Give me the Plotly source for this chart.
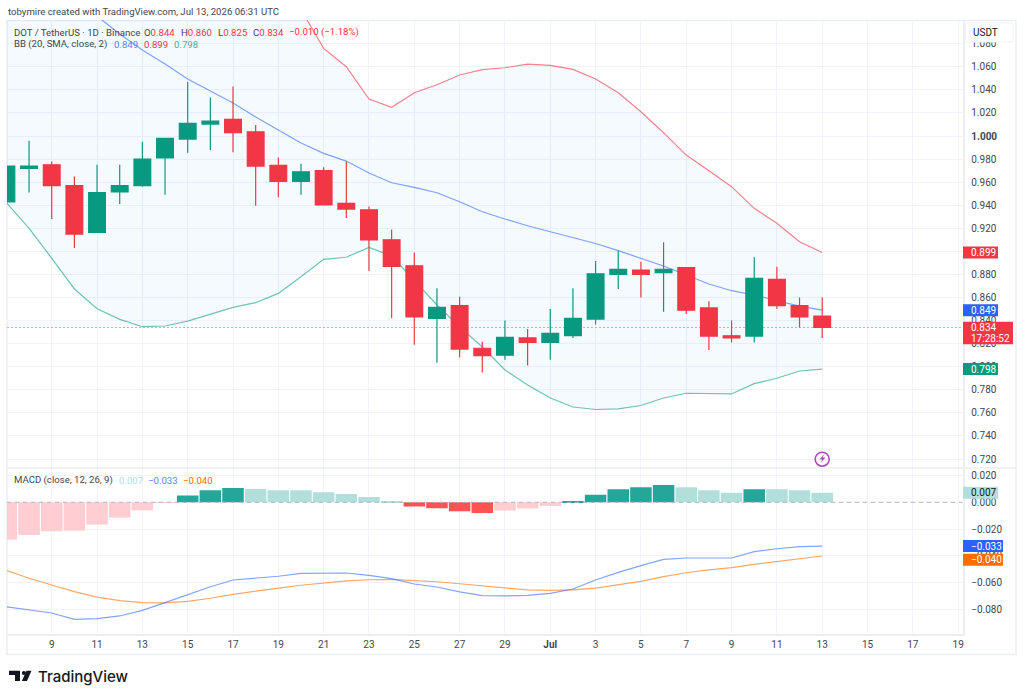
import pandas as pd
import plotly.graph_objects as go
from plotly.subplots import make_subplots

WIDTH, HEIGHT = 1024, 699
FONT = "Roboto, Inter, sans-serif"
LOGO_FONT = "Inter, Roboto, sans-serif"
INK = "#434651"
GREEN = "#089981"
RED = "#F23645"
BLUE = "#2962FF"
ORANGE = "#FF6D00"
GRID = "#f0f3fa"
EDGE = "#eceef2"
LABEL_SIZE = 9.6
TICK_SIZE = 10

dates = pd.date_range("2026-06-07", "2026-07-13", freq="D")

opens = [.9428, .972, .975, .957, .9165, .9515, .957, .981, .9974, 1.0104, 1.0145, 1.0037, .9746,
         .9607, .970, .9417, .936, .910, .8875, .842, .853, .816, .810, .825, .821, .827, .8413,
         .880, .8838, .8815, .886, .851, .8268, .8266, .8757, .853, .844]
highs = [.975, .996, .978, .965, .975, .975, .995, .998, 1.047, 1.0335, 1.043, 1.0095, .9815,
         .976, .973, .978, .939, .919, .899, .868, .8607, .8217, .840, .8327, .850, .868, .8916,
         .9006, .891, .908, .886, .8567, .840, .895, .8867, .860, .860]
lows = [.9425, .951, .928, .903, .916, .941, .956, .949, .9855, .988, .986, .9396, .947,
        .949, .940, .929, .883, .842, .819, .8035, .808, .795, .806, .801, .806, .825, .8367,
        .8674, .860, .8477, .8457, .8145, .821, .821, .850, .834, .825]
closes = [.974, .974, .957, .915, .951, .957, .980, .998, 1.011, 1.013, 1.003, .974, .9607,
          .969, .9404, .9367, .910, .887, .8433, .8515, .8153, .8095, .8255, .821, .829, .842, .8806,
          .8844, .880, .8844, .849, .8266, .825, .8766, .853, .8433, .834]

bb_upper = [1.22, 1.21, 1.20, 1.19, 1.18, 1.17, 1.16, 1.15, 1.14, 1.135, 1.13, 1.125, 1.12,
            1.1097, 1.076, 1.0601, 1.0321, 1.0249, 1.0375, 1.0445, 1.0529, 1.0575, 1.0592, 1.0624, 1.0613, 1.0578, 1.0494,
            1.0375, 1.0211, 1.0029, .9835, .9699, .9561, .9373, .9243, .9084, .899]
bb_basis = [1.1569, 1.1439, 1.1318, 1.1179, 1.104, 1.0884, 1.0745, 1.0624, 1.0494, 1.039, 1.0286, 1.0165, 1.0052,
            .9939, .985, .9783, .9679, .9595, .9555, .9508, .943, .9344, .9281, .9222, .917, .9116, .9068,
            .9006, .8942, .8873, .8795, .8717, .8659, .8622, .8572, .8526, .849]
bb_lower = [.9422, .92, .894, .8674, .8503, .8411, .8347, .8353, .8396, .8454, .8515, .8555, .8636,
            .878, .8931, .8949, .9035, .896, .8752, .8535, .8344, .8171, .7972, .7842, .7729, .7651, .7629,
            .7634, .7664, .7729, .777, .7764, .7764, .7853, .79, .7963, .798]

macd_hist = [-.0278, -.0243, -.0216, -.0211, -.0166, -.0114, -.006, -.0005, .005, .0089, .0107, .0099, .0089,
             .0089, .0075, .0062, .004, .001, -.0032, -.0045, -.0067, -.008, -.0062, -.0047, -.0027, .001, .0057,
             .0097, .0112, .0129, .0112, .0089, .0072, .0097, .0097, .0089, .0072]
macd_line = [-.0778, -.0803, -.0825, -.0872, -.0867, -.0847, -.0805, -.0748, -.0686, -.0629, -.0579, -.0564, -.0551,
             -.0529, -.0529, -.0527, -.0544, -.0569, -.0609, -.0631, -.0668, -.0696, -.0698, -.0693, -.0678, -.0646, -.0579,
             -.0522, -.0472, -.0425, -.0415, -.0417, -.0415, -.0368, -.0346, -.0331, -.0326]
macd_signal = [-.0507, -.0566, -.0616, -.0666, -.0706, -.0733, -.0748, -.075, -.0738, -.0715, -.0686, -.0661, -.0639,
               -.0618, -.0601, -.0586, -.0577, -.0574, -.0584, -.0592, -.0607, -.0624, -.0639, -.0653, -.0656, -.0653, -.0639,
               -.0616, -.0589, -.0554, -.0525, -.0504, -.0487, -.0462, -.044, -.042, -.040]

price_ticks = [.72, .74, .76, .78, .80, .82, .84, .86, .88, .90, .92, .94, .96, .98, 1.00, 1.02, 1.04, 1.06, 1.08]
macd_ticks = [.02, 0, -.02, -.04, -.06, -.08]
macd_tick_labels = ["0.020", "0.000", "−0.020", "−0.040", "−0.060", "−0.080"]
date_ticks = ["2026-06-09", "2026-06-11", "2026-06-13", "2026-06-15", "2026-06-17", "2026-06-19", "2026-06-21",
              "2026-06-23", "2026-06-25", "2026-06-27", "2026-06-29", "2026-07-01", "2026-07-03", "2026-07-05",
              "2026-07-07", "2026-07-09", "2026-07-11", "2026-07-13", "2026-07-15", "2026-07-17", "2026-07-19"]
date_tick_labels = ["9", "11", "13", "15", "17", "19", "21", "23", "25", "27", "29", "<b>Jul</b>",
                    "3", "5", "7", "9", "11", "13", "15", "17", "19"]

PRICE_RANGE = [.7122, 1.1006]
MACD_RANGE = [-.09814, .02556]
TIME_RANGE = ["2026-06-07 00:38", "2026-07-19 04:35"]


def fx(px):
    return px / WIDTH


def fy(py):
    return 1 - py / HEIGHT


def histogram_colours(values):
    colours = []
    for i, v in enumerate(values):
        rising = i == 0 or v > values[i - 1]
        if v >= 0:
            colours.append("#26A69A" if rising else "#B2DFDB")
        else:
            colours.append("#FFCDD2" if rising else "#FF5252")
    return colours


fig = make_subplots(rows=2, cols=1, shared_xaxes=False)

RED_LINE = "rgba(242,54,69,.62)"
GREEN_LINE = "rgba(8,153,129,.58)"
BLUE_LINE = "rgba(41,98,255,.58)"
ORANGE_LINE = "rgba(255,109,0,.6)"

# Bollinger band with its shaded interior
fig.add_trace(go.Scatter(x=dates, y=bb_upper, mode="lines", line=dict(color=RED_LINE, width=1.2)), 1, 1)
fig.add_trace(go.Scatter(x=dates, y=bb_lower, mode="lines", line=dict(color=GREEN_LINE, width=1.2),
                         fill="tonexty", fillcolor="rgba(33,150,243,0.05)"), 1, 1)
fig.add_trace(go.Scatter(x=dates, y=bb_basis, mode="lines", line=dict(color=BLUE_LINE, width=1.2)), 1, 1)

# Last price level across the whole pane
fig.add_trace(go.Scatter(x=TIME_RANGE, y=[closes[-1], closes[-1]], mode="lines",
                         line=dict(color="rgba(242,54,69,.45)", width=1.2, dash="2px,2px")), 1, 1)

# MACD pane
fig.add_trace(go.Bar(x=dates, y=macd_hist, marker=dict(color=histogram_colours(macd_hist), line=dict(width=0))), 2, 1)
fig.add_trace(go.Scatter(x=dates, y=macd_signal, mode="lines", line=dict(color=ORANGE_LINE, width=1.2)), 2, 1)
fig.add_trace(go.Scatter(x=dates, y=macd_line, mode="lines", line=dict(color=BLUE_LINE, width=1.2)), 2, 1)

# Candles live on an overlaid axis so that they stack above the band lines
fig.add_trace(go.Candlestick(
    x=dates, open=opens, high=highs, low=lows, close=closes, yaxis="y3", xaxis="x", whiskerwidth=0,
    increasing=dict(line=dict(color=GREEN, width=1.2), fillcolor=GREEN),
    decreasing=dict(line=dict(color=RED, width=1.2), fillcolor=RED),
))

# Marker for the news event above the time scale
fig.add_trace(go.Scatter(x=[dates[-1]], y=[.7198], mode="markers", cliponaxis=False,
                         marker=dict(symbol="circle-open", size=14, color="#AB47BC", line=dict(width=1.6, color="#AB47BC"))),
              1, 1)

annotations = []


def text(px, py, s, colour=INK, size=LABEL_SIZE, family=FONT, weight=None):
    annotations.append(dict(xref="paper", yref="paper", x=fx(px), y=fy(py), text=s, showarrow=False,
                            xanchor="left", yanchor="middle", borderpad=0, borderwidth=0,
                            font=dict(family=family, size=size, color=colour, weight=weight)))


text(8, 11.5, "tobymire created with TradingView.com, Jul 13, 2026 06:31 UTC", "#434651")
text(13.5, 32, "DOT / TetherUS · 1D · Binance")
ohlc_pairs = [(144.3, "O", f"{opens[-1]:.3f}"), (181.3, "H", f"{highs[-1]:.3f}"),
              (218, "L", f"{lows[-1]:.3f}"), (252.7, "C", f"{closes[-1]:.3f}")]
for px, letter, value in ohlc_pairs:
    text(px, 32, f'{letter}<span style="color:{RED}">{value}</span>')
text(288.7, 32, "−0.010 (−1.18%)", RED)
text(13.5, 44.4, "BB (20, SMA, close, 2)")
text(113.7, 44.4, f"{bb_basis[-1]:.3f}", "#5b85ff")
text(143.7, 44.4, f"{bb_upper[-1]:.3f}", RED)
text(173.7, 44.4, f"{bb_lower[-1]:.3f}", "#3cb39e")
text(13.5, 480.3, "MACD (close, 12, 26, 9)")
text(118.7, 480.3, f"{macd_hist[-1]:.3f}", "#B2DFDB")
text(147.7, 480.3, f"−{abs(macd_line[-1]):.3f}", "#5b85ff")
text(183, 480.3, f"−{abs(macd_signal[-1]):.3f}", ORANGE)
text(38, 676.5, "TradingView", "#131722", 15, family=LOGO_FONT, weight=500)
text(972.7, 32.5, "USDT", "#131722", TICK_SIZE)

shapes = [
    # frame round the chart
    dict(type="rect", xref="paper", yref="paper", x0=fx(7), x1=fx(1016), y0=fy(654.5), y1=fy(20.5),
         line=dict(color=EDGE, width=1.5), layer="below"),
    # pane separator
    dict(type="line", xref="paper", yref="paper", x0=fx(7), x1=fx(1016), y0=fy(468), y1=fy(468),
         line=dict(color=EDGE, width=1.5), layer="above"),
    # MACD zero line
    dict(type="line", xref="paper", yref="y2", x0=fx(7), x1=fx(962.5), y0=0, y1=0,
         line=dict(color="#b2b5be", width=1, dash="4px,4px"), layer="above"),
    # currency button
    dict(type="rect", xref="paper", yref="paper", x0=fx(965.5), x1=fx(1013), y0=fy(42), y1=fy(23),
         fillcolor="white", line=dict(color=GRID, width=1), layer="above"),
    # TradingView mark
    dict(type="path", xref="paper", yref="paper", fillcolor="#131722", line=dict(width=0),
         path=f"M{fx(9)} {fy(670.8)} L{fx(20)} {fy(670.8)} L{fx(20)} {fy(681)} L{fx(15)} {fy(681)} "
              f"L{fx(15)} {fy(675)} L{fx(9)} {fy(675)} Z"),
    dict(type="circle", xref="paper", yref="paper", fillcolor="#131722", line=dict(width=0),
         x0=fx(21.8), x1=fx(26), y0=fy(675.1), y1=fy(670.9)),
    dict(type="path", xref="paper", yref="paper", fillcolor="#131722", line=dict(width=0),
         path=f"M{fx(26.5)} {fy(670.8)} L{fx(31.5)} {fy(670.8)} L{fx(27)} {fy(681)} L{fx(21.8)} {fy(681)} Z"),
    # bolt inside the event marker
    dict(type="path", xref="paper", yref="paper", fillcolor="#AB47BC", line=dict(width=0),
         path=f"M{fx(824.5)} {fy(454)} L{fx(819.5)} {fy(459.5)} L{fx(822.3)} {fy(459.5)} L{fx(820.5)} {fy(463)} "
              f"L{fx(825.5)} {fy(457.5)} L{fx(822.7)} {fy(457.5)} Z"),
]


def tag(value, axis, label, fill, colour="white", right=998, up=6, down=6, shift=0):
    """Coloured price tag on the right-hand scale."""
    shapes.append(dict(type="rect", xref="paper", yref=axis, x0=fx(963), x1=fx(right), ysizemode="pixel",
                       yanchor=value, y0=-down, y1=up, fillcolor=fill, line=dict(width=0), layer="above"))
    annotations.append(dict(xref="paper", yref=axis, x=fx(970), y=value, yshift=shift, text=label, showarrow=False,
                            xanchor="left", yanchor="middle", borderpad=0,
                            font=dict(family=FONT, size=TICK_SIZE, color=colour)))


tag(bb_upper[-1], "y", f"{bb_upper[-1]:.3f}", RED)
tag(bb_basis[-1], "y", f"{bb_basis[-1]:.3f}", BLUE)
tag(bb_lower[-1], "y", f"{bb_lower[-1]:.3f}", GREEN)
tag(closes[-1], "y", f"{closes[-1]:.3f}", RED, right=1013, up=5.8, down=16.8)
annotations.append(dict(xref="paper", yref="y", x=fx(970), y=closes[-1], yshift=-11, text="17:28:52", showarrow=False,
                        xanchor="left", yanchor="middle", borderpad=0,
                        font=dict(family=FONT, size=TICK_SIZE, color="white")))
tag(macd_hist[-1], "y2", f"{macd_hist[-1]:.3f}", "#B2DFDB", colour="#131722")
tag(macd_line[-1], "y2", f"−{abs(macd_line[-1]):.3f}", BLUE, right=1003)
tag(macd_signal[-1], "y2", f"−{abs(macd_signal[-1]):.3f}", ORANGE, right=1003, up=2.3, down=9.7, shift=-3.7)

tick_font = dict(family=FONT, size=TICK_SIZE, color=INK)
price_labels = [f"<b>{v:.3f}</b>" if v == 1.0 else f"{v:.3f}" for v in price_ticks]

fig.update_layout(
    width=WIDTH, height=HEIGHT, autosize=False, showlegend=False,
    margin=dict(l=0, r=0, t=0, b=0), paper_bgcolor="white", plot_bgcolor="white",
    bargap=.05, boxmode="group", boxgap=.26, boxgroupgap=0,
    shapes=shapes, annotations=annotations,
    xaxis=dict(domain=[fx(7), fx(962.5)], range=TIME_RANGE, type="date", anchor="y",
               tickmode="array", tickvals=date_ticks, ticktext=[""] * len(date_ticks),
               showgrid=True, gridcolor=GRID, gridwidth=1, zeroline=False, showline=False, ticks="",
               rangeslider=dict(visible=False)),
    xaxis2=dict(domain=[fx(7), fx(962.5)], range=TIME_RANGE, type="date", anchor="y2",
                tickmode="array", tickvals=date_ticks, ticktext=date_tick_labels, tickfont=tick_font, tickangle=0,
                showgrid=True, gridcolor=GRID, gridwidth=1, zeroline=False, showline=True, linecolor=EDGE, linewidth=1.5,
                ticks="", ticklabelstandoff=0),
    yaxis=dict(domain=[fy(468), fy(20)], range=PRICE_RANGE, side="right", anchor="x",
               tickmode="array", tickvals=price_ticks + [1.1], ticktext=price_labels + [""], tickfont=tick_font,
               showgrid=True, gridcolor=GRID, gridwidth=1, zeroline=False, showline=True, linecolor=EDGE, linewidth=1.5,
               ticks="", ticklabelstandoff=5),
    yaxis2=dict(domain=[fy(634), fy(468)], range=MACD_RANGE, side="right", anchor="x2",
                tickmode="array", tickvals=macd_ticks, ticktext=macd_tick_labels, tickfont=tick_font,
                showgrid=True, gridcolor=GRID, gridwidth=1, zeroline=False, showline=True, linecolor=EDGE, linewidth=1.5,
                ticks="", ticklabelstandoff=5),
    yaxis3=dict(overlaying="y", range=PRICE_RANGE, side="right", anchor="x", showgrid=False, zeroline=False,
                showticklabels=False, ticks="", showline=False),
)

fig.write_html("out.html", config=dict(displayModeBar=False))
